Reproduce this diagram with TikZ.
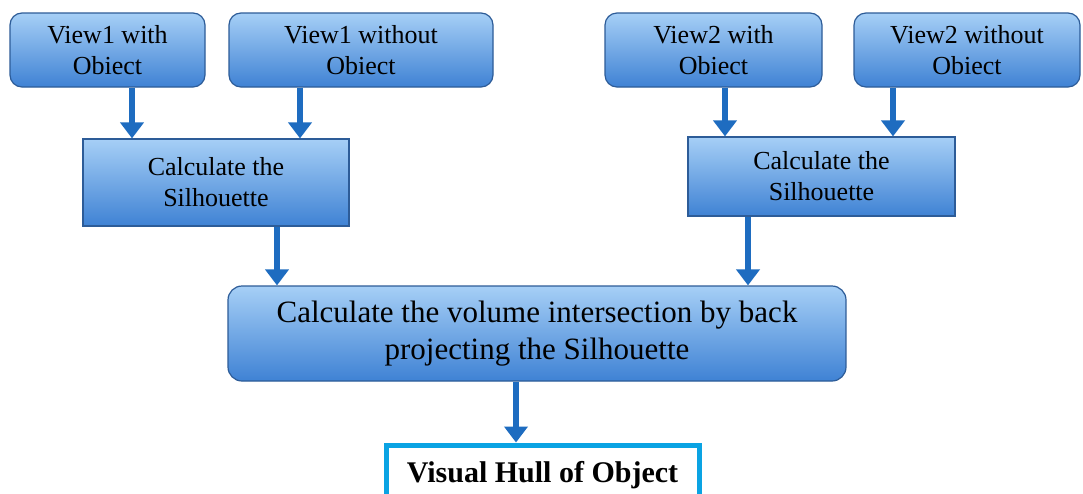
\documentclass[tikz,border=0pt]{standalone}
\usepackage{fontspec}
\setmainfont{Liberation Serif}
\usetikzlibrary{arrows.meta}
\definecolor{boxtop}{HTML}{A6CFF6}
\definecolor{boxbot}{HTML}{3F82D4}
\definecolor{boxline}{HTML}{2D5C98}
\definecolor{arrcol}{HTML}{1E6CC0}
\definecolor{hullcol}{HTML}{0AA3E3}
\tikzset{
  bluebox/.style={draw=boxline, line width=1.2pt, top color=boxtop, bottom color=boxbot,
    align=center, inner sep=0pt, font=\fontsize{26}{31}\selectfont},
  roundbox/.style={bluebox, rounded corners=12pt},
  bigbox/.style={bluebox, rounded corners=14pt, font=\fontsize{31}{37}\selectfont},
  hullbox/.style={draw=hullcol, line width=5pt, fill=white, inner sep=0pt,
    font=\fontsize{30}{34}\bfseries\selectfont},
  arr/.style={draw=arrcol, line width=6pt, -{Triangle[width=23pt,length=16pt]}, arrcol}
}
\begin{document}
\begin{tikzpicture}[x=1pt,y=-1pt]
\useasboundingbox (0,0) rectangle (1083,493);
\fill[white] (0,0) rectangle (1083,493);
\node[roundbox, minimum width=195pt, minimum height=74pt] (v1w) at (107.5,50) {View1 with\\Obiect};
\node[roundbox, minimum width=264pt, minimum height=74pt] (v1wo) at (361,50) {View1 without\\Obiect};
\node[roundbox, minimum width=217pt, minimum height=74pt] (v2w) at (713.5,50) {View2 with\\Obiect};
\node[roundbox, minimum width=226pt, minimum height=74pt] (v2wo) at (967,50) {View2 without\\Obiect};
\node[bluebox, minimum width=266pt, minimum height=87pt] (c1) at (216,182.5) {Calculate the\\Silhouette};
\node[bluebox, minimum width=267pt, minimum height=79pt] (c2) at (821.5,176.5) {Calculate the\\Silhouette};
\node[bigbox, minimum width=618pt, minimum height=95pt] (big) at (537,333.5) {Calculate the volume intersection by back\\projecting the Silhouette};
\node[hullbox, minimum width=313pt, minimum height=58pt, text depth=4pt] (hull) at (542.5,474) {Visual Hull of Object};
\coordinate (xa) at (132,0);
\coordinate (xb) at (300,0);
\coordinate (xc) at (725,0);
\coordinate (xd) at (893,0);
\coordinate (xe) at (277,0);
\coordinate (xf) at (748,0);
\coordinate (xg) at (516,0);
\draw[arr] (v1w.south -| xa) -- (c1.north -| xa);
\draw[arr] (v1wo.south -| xb) -- (c1.north -| xb);
\draw[arr] (v2w.south -| xc) -- (c2.north -| xc);
\draw[arr] (v2wo.south -| xd) -- (c2.north -| xd);
\draw[arr] (c1.south -| xe) -- (big.north -| xe);
\draw[arr] (c2.south -| xf) -- (big.north -| xf);
\draw[arr] (big.south -| xg) -- (hull.north -| xg);
\end{tikzpicture}
\end{document}
